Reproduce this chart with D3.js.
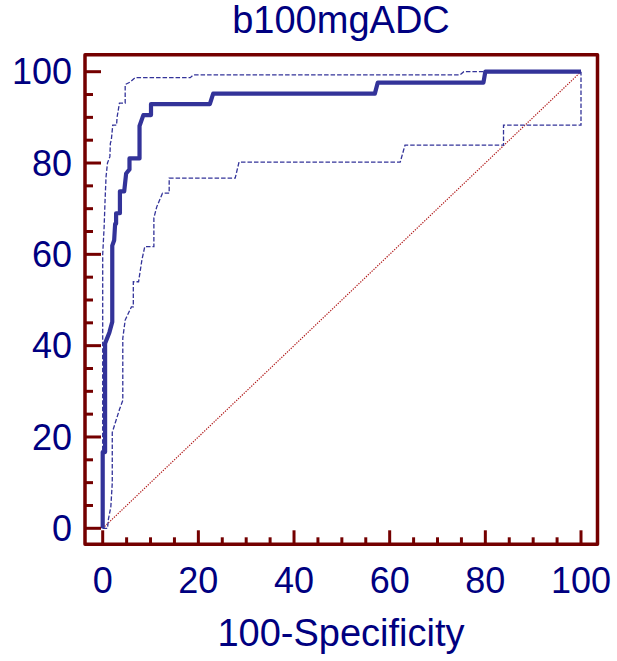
<!DOCTYPE html>
<html>
<head>
<meta charset="utf-8">
<script src="https://cdn.jsdelivr.net/npm/d3@7"></script>
<style>
  html, body { margin: 0; padding: 0; background: #fff; }
  svg { display: block; }
  text { font-family: "Liberation Sans", Arial, sans-serif; fill: #000080; }
</style>
</head>
<body>
<svg id="chart" width="617" height="661"></svg>
<script>
// ROC curve for b100mgADC: [100-Specificity, Sensitivity] vertices
const rocCurve = [
  [0,0],[0,16.7],[0.5,16.7],[0.5,40.5],[1.4,42.9],[2.0,45.2],[2.0,61.9],[2.4,63.1],
  [2.6,66.7],[2.8,66.7],[2.8,69.0],[3.6,69.0],[3.6,73.8],[4.5,73.8],[4.9,77.7],
  [5.6,78.6],[5.6,81.0],[7.7,81.0],[7.7,88.1],[8.5,90.5],[10.1,90.5],[10.1,92.9],
  [22.4,92.9],[23.1,95.2],[56.9,95.2],[57.5,97.6],[79.6,97.6],[80.0,100],[100,100]
];
// Upper 95% confidence bound
const upperBound = [
  [0,0],[0,60],[0.3,66],[0.5,72],[0.7,77],[1.0,80],[1.5,81.4],[1.6,84.3],[1.8,85],
  [2.1,88.3],[2.9,88.3],[3.0,90],[3.5,93.1],[4.7,93.1],[4.7,97.2],[5.7,97.7],
  [6.8,98.7],[18.3,98.7],[19.0,99.3],[74.7,99.3],[75.5,100],[100,100]
];
// Lower 95% confidence bound
const lowerBound = [
  [0,0],[1.0,0],[1.2,2],[1.7,4.7],[2.0,9.9],[2.0,21],[2.6,23],[3.5,26],[4.2,28],
  [4.2,41.6],[4.7,45.6],[6.0,48.5],[6.4,48.5],[6.4,54],[7.5,54],[8.2,58.8],
  [8.8,61.7],[10.7,61.7],[10.7,68],[11.3,70.4],[12.5,73.4],[13.9,73.4],[13.9,76.7],
  [27.7,76.7],[28.5,80.2],[62.2,80.2],[63.2,83.9],[83.8,83.9],[83.8,88.3],[100,88.3],[100,100]
];
// Reference diagonal (chance line)
const diagonal = [[0,0],[100,100]];

const xTickLabels = [0, 20, 40, 60, 80, 100];
const yTickLabels = [0, 20, 40, 60, 80, 100];
const minorTicks = d3.range(0, 101, 5);

const title = "b100mgADC";
const xTitle = "100-Specificity";

const svg = d3.select("#chart");
const x = d3.scaleLinear().domain([0, 100]).range([102.7, 581]);
const y = d3.scaleLinear().domain([0, 100]).range([528.3, 71.7]);

const frameColor = "#740000";
const curveColor = "#333399";
const frame = { left: 85, right: 597.5, top: 54.7, bottom: 544.3 };

// Reference diagonal
const line = d3.line().x(d => x(d[0])).y(d => y(d[1]));
svg.append("path")
  .attr("d", line(diagonal))
  .attr("fill", "none")
  .attr("stroke", "#b01818")
  .attr("stroke-width", 1.2)
  .attr("stroke-dasharray", "1.3,1.3");

// Confidence bounds
[upperBound, lowerBound].forEach(b => {
  svg.append("path")
    .attr("d", line(b))
    .attr("fill", "none")
    .attr("stroke", curveColor)
    .attr("stroke-width", 1.3)
    .attr("stroke-dasharray", "4.5,2");
});

// ROC curve
svg.append("path")
  .attr("d", line(rocCurve))
  .attr("fill", "none")
  .attr("stroke", curveColor)
  .attr("stroke-width", 4.2)
  .attr("stroke-linejoin", "round");

// Ticks (inward), majors every 20, minors every 5
const tickG = svg.append("g").attr("stroke", frameColor).attr("stroke-width", 3);
minorTicks.forEach(v => {
  const major = v % 20 === 0;
  const len = major ? 16 : 8;
  tickG.append("line")
    .attr("x1", frame.left).attr("x2", frame.left + len)
    .attr("y1", y(v)).attr("y2", y(v));
  tickG.append("line")
    .attr("x1", x(v)).attr("x2", x(v))
    .attr("y1", frame.bottom).attr("y2", frame.bottom - (major ? 14 : 7));
});

// Frame
svg.append("rect")
  .attr("x", frame.left).attr("y", frame.top)
  .attr("width", frame.right - frame.left)
  .attr("height", frame.bottom - frame.top)
  .attr("fill", "none")
  .attr("stroke", frameColor)
  .attr("stroke-width", 3.5)
  .attr("stroke-linejoin", "round");

// Tick labels
svg.append("g").selectAll("text").data(yTickLabels).join("text")
  .attr("x", 72).attr("y", d => y(d))
  .attr("dy", "0.35em")
  .attr("text-anchor", "end")
  .attr("font-size", 36)
  .text(d => d);

svg.append("g").selectAll("text").data(xTickLabels).join("text")
  .attr("x", d => x(d)).attr("y", 593)
  .attr("text-anchor", "middle")
  .attr("font-size", 36)
  .text(d => d);

// Titles
svg.append("text")
  .attr("x", 341).attr("y", 33)
  .attr("text-anchor", "middle")
  .attr("font-size", 38)
  .text(title);

svg.append("text")
  .attr("x", 341).attr("y", 646)
  .attr("text-anchor", "middle")
  .attr("font-size", 38)
  .text(xTitle);
</script>
</body>
</html>
